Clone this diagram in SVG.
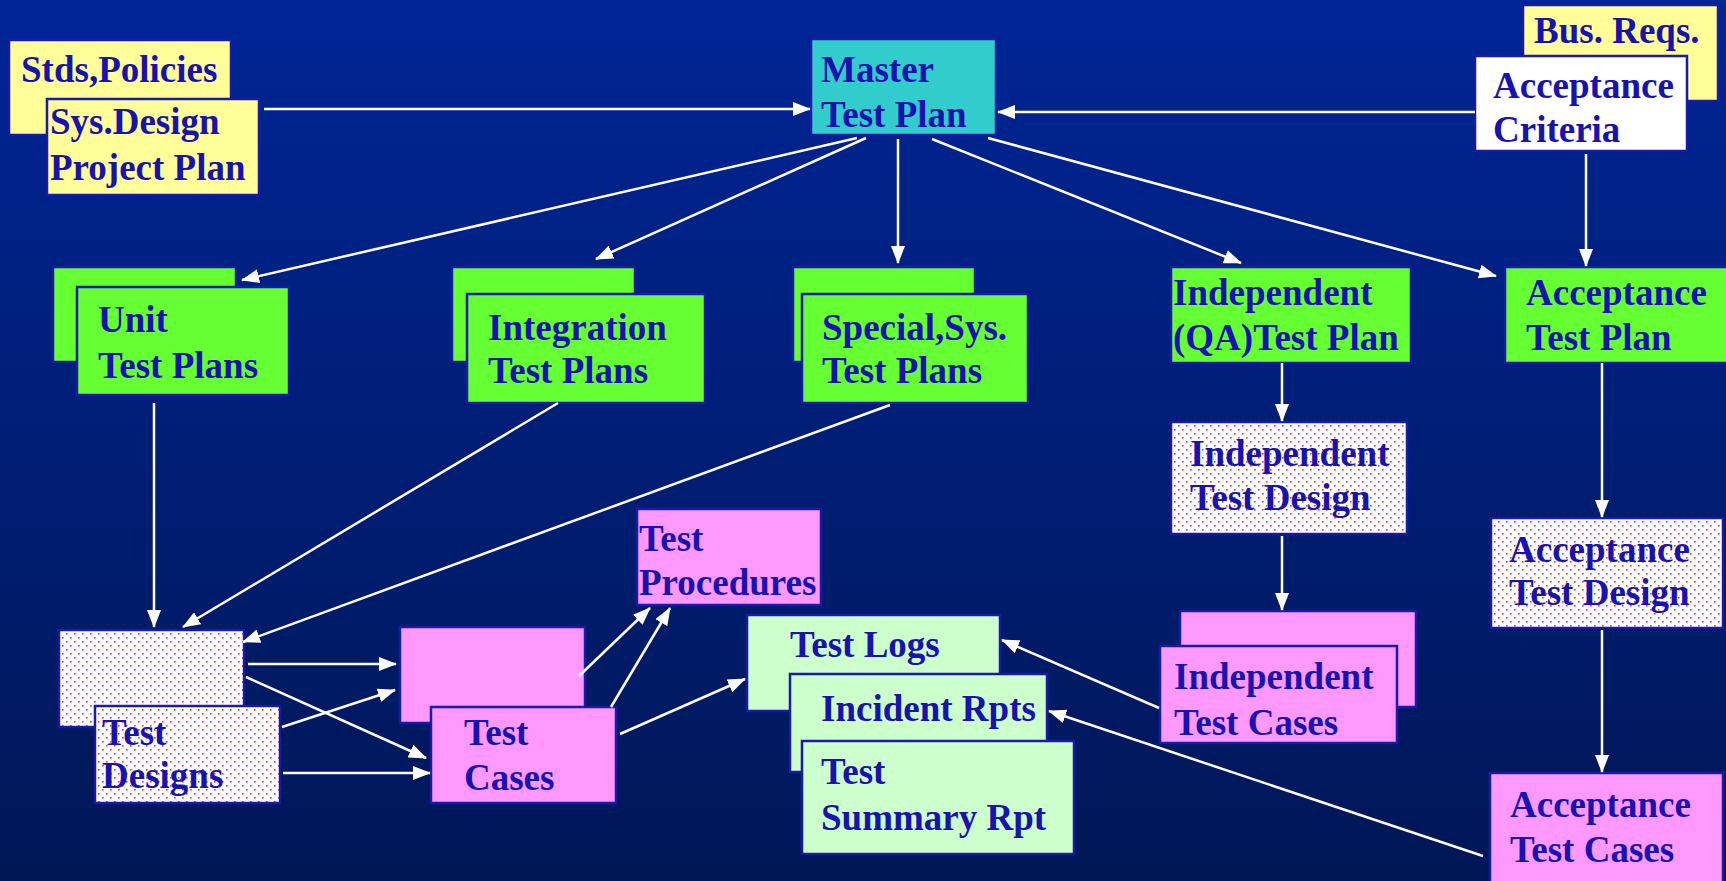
<svg xmlns="http://www.w3.org/2000/svg" width="1726" height="881" viewBox="0 0 1726 881">
<defs>
<linearGradient id="bg" x1="0" y1="0" x2="0" y2="1">
<stop offset="0" stop-color="#002596"/>
<stop offset="1" stop-color="#001756"/>
</linearGradient>
<pattern id="dots" width="8" height="8" patternUnits="userSpaceOnUse">
<rect width="8" height="8" fill="#ffffff"/>
<rect x="2" y="1" width="1.6" height="1.6" fill="#ff3030"/>
<rect x="6" y="5" width="1.6" height="1.6" fill="#ff3030"/>
</pattern>
<marker id="ah" markerUnits="userSpaceOnUse" markerWidth="18" markerHeight="14" refX="17" refY="7" orient="auto">
<path d="M0,0 L18,7 L0,14 z" fill="#ffffff"/>
</marker>
<style>
.t{font-family:"Liberation Serif","Times New Roman",serif;font-weight:bold;font-size:37px;fill:#1712b0}
.b{stroke:#1a1aa8;stroke-width:2.5}
.y{fill:#ffff99}
.c{fill:#33cccc}
.g{fill:#66ff33}
.p{fill:#ff99ff}
.l{fill:#ccffcc}
.w{fill:#ffffff}
.d{fill:url(#dots)}
.cn line{stroke:#ffffff;stroke-width:2.5;marker-end:url(#ah)}
</style>
</defs>
<rect width="1726" height="881" fill="url(#bg)"/>

<g id="stds">
<rect class="b y" x="9" y="40" width="222" height="95"/>
<text class="t" x="21" y="82">Stds,Policies</text>
</g>
<g id="sysdesign">
<rect class="b y" x="47" y="99" width="212" height="96"/>
<text class="t" x="50" y="134">Sys.Design</text>
<text class="t" x="50" y="180">Project Plan</text>
</g>
<g id="master">
<rect class="b c" x="811" y="39" width="185" height="96"/>
<text class="t" x="821" y="82">Master</text>
<text class="t" x="821" y="127">Test Plan</text>
</g>
<g id="busreqs">
<rect class="b y" x="1523" y="5" width="195" height="96"/>
<text class="t" x="1534" y="43">Bus. Reqs.</text>
</g>
<g id="acccrit">
<rect class="b w" x="1475" y="56" width="212" height="95"/>
<text class="t" x="1493" y="98">Acceptance</text>
<text class="t" x="1493" y="142">Criteria</text>
</g>

<g id="unit">
<rect class="b g" x="53" y="267" width="183" height="95"/>
<rect class="b g" x="77" y="287" width="212" height="108"/>
<text class="t" x="98" y="332">Unit</text>
<text class="t" x="98" y="378">Test Plans</text>
</g>
<g id="integration">
<rect class="b g" x="452" y="267" width="183" height="95"/>
<rect class="b g" x="467" y="294" width="238" height="109"/>
<text class="t" x="488" y="340">Integration</text>
<text class="t" x="488" y="383">Test Plans</text>
</g>
<g id="special">
<rect class="b g" x="793" y="267" width="182" height="95"/>
<rect class="b g" x="802" y="294" width="226" height="109"/>
<text class="t" x="822" y="340">Special,Sys.</text>
<text class="t" x="822" y="383">Test Plans</text>
</g>
<g id="indplan">
<rect class="b g" x="1171" y="267" width="240" height="96"/>
<text class="t" x="1173" y="305">Independent</text>
<text class="t" x="1173" y="350">(QA)Test Plan</text>
</g>
<g id="accplan">
<rect class="b g" x="1505" y="267" width="224" height="96"/>
<text class="t" x="1526" y="305">Acceptance</text>
<text class="t" x="1526" y="350">Test Plan</text>
</g>
<g id="inddesign">
<rect class="b d" x="1171" y="422" width="236" height="112"/>
<text class="t" x="1190" y="466">Independent</text>
<text class="t" x="1190" y="510">Test Design</text>
</g>
<g id="accdesign">
<rect class="b d" x="1491" y="518" width="232" height="110"/>
<text class="t" x="1509" y="562">Acceptance</text>
<text class="t" x="1509" y="605">Test Design</text>
</g>
<g id="indcases">
<rect class="b p" x="1180" y="611" width="236" height="96"/>
<rect class="b p" x="1160" y="646" width="237" height="97"/>
<text class="t" x="1174" y="689">Independent</text>
<text class="t" x="1174" y="735">Test Cases</text>
</g>
<g id="acccases">
<rect class="b p" x="1490" y="773" width="233" height="115"/>
<text class="t" x="1510" y="817">Acceptance</text>
<text class="t" x="1510" y="862">Test Cases</text>
</g>
<g id="procedures">
<rect class="b p" x="637" y="509" width="184" height="96"/>
<text class="t" x="639" y="551">Test</text>
<text class="t" x="639" y="595">Procedures</text>
</g>
<g id="testlogs">
<rect class="b l" x="747" y="615" width="253" height="96"/>
<text class="t" x="790" y="657">Test Logs</text>
</g>
<g id="incident">
<rect class="b l" x="790" y="674" width="257" height="98"/>
<text class="t" x="821" y="721">Incident Rpts</text>
</g>
<g id="summary">
<rect class="b l" x="802" y="741" width="272" height="113"/>
<text class="t" x="821" y="784">Test</text>
<text class="t" x="821" y="830">Summary Rpt</text>
</g>
<g id="testdesigns">
<rect class="b d" x="59" y="630" width="185" height="97"/>
<rect class="b d" x="95" y="706" width="185" height="97"/>
<text class="t" x="102" y="745">Test</text>
<text class="t" x="102" y="788">Designs</text>
</g>
<g id="testcases">
<rect class="b p" x="400" y="627" width="185" height="96"/>
<rect class="b p" x="431" y="707" width="185" height="96"/>
<text class="t" x="464" y="745">Test</text>
<text class="t" x="464" y="790">Cases</text>
</g>

<g id="connectors" class="cn">
<line x1="264" y1="109" x2="810" y2="109"/>
<line x1="1475" y1="112" x2="998" y2="112"/>
<line x1="1586" y1="154" x2="1586" y2="266"/>
<line x1="857" y1="138" x2="242" y2="280"/>
<line x1="866" y1="138" x2="596" y2="259"/>
<line x1="898" y1="139" x2="898" y2="263"/>
<line x1="932" y1="139" x2="1241" y2="263"/>
<line x1="988" y1="138" x2="1496" y2="276"/>
<line x1="154" y1="403" x2="154" y2="627"/>
<line x1="558" y1="403" x2="183" y2="627"/>
<line x1="890" y1="405" x2="243" y2="642"/>
<line x1="248" y1="664" x2="396" y2="664"/>
<line x1="246" y1="677" x2="426" y2="758"/>
<line x1="282" y1="727" x2="395" y2="690"/>
<line x1="283" y1="773" x2="430" y2="773"/>
<line x1="579" y1="676" x2="650" y2="608"/>
<line x1="611" y1="707" x2="670" y2="608"/>
<line x1="620" y1="734" x2="745" y2="679"/>
<line x1="1159" y1="708" x2="1002" y2="640"/>
<line x1="1483" y1="856" x2="1049" y2="711"/>
<line x1="1282" y1="363" x2="1282" y2="421"/>
<line x1="1282" y1="536" x2="1282" y2="610"/>
<line x1="1602" y1="363" x2="1602" y2="517"/>
<line x1="1602" y1="630" x2="1602" y2="772"/>
</g>
</svg>
